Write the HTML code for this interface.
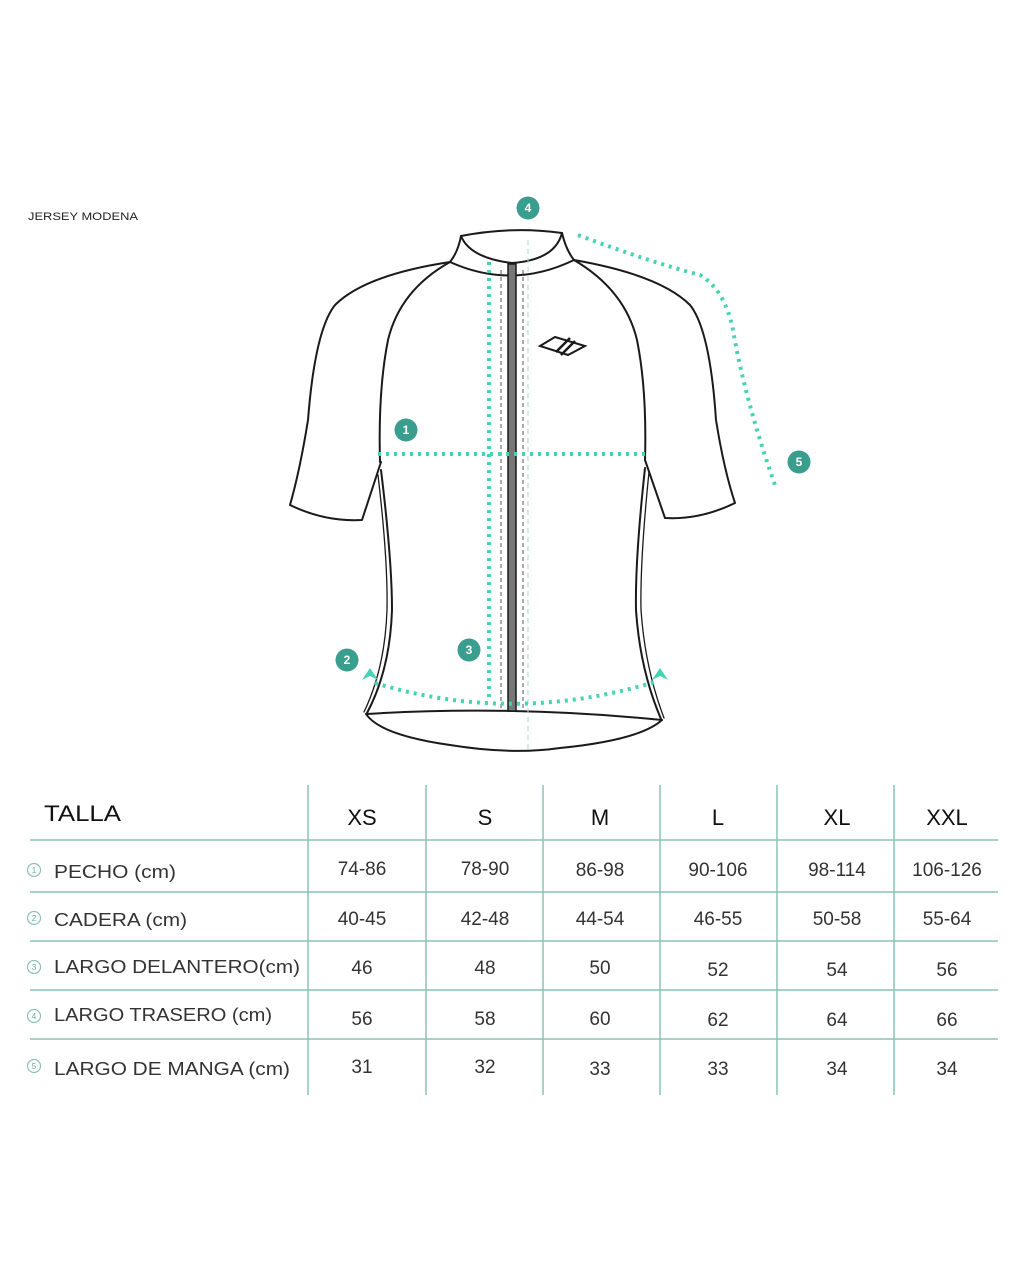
<!DOCTYPE html>
<html><head><meta charset="utf-8"><style>
html,body{margin:0;padding:0;background:#fff;}
body{width:1024px;height:1280px;position:relative;overflow:hidden;font-family:"Liberation Sans",sans-serif;}
svg{position:absolute;left:0;top:0;}
</style></head><body>
<svg width="1024" height="1280" viewBox="0 0 1024 1280" xmlns="http://www.w3.org/2000/svg" font-family="Liberation Sans, sans-serif">
<text x="28" y="220" font-size="11" fill="#222" textLength="110" lengthAdjust="spacingAndGlyphs">JERSEY MODENA</text>

<g fill="none" stroke="#1a1a1a" stroke-width="2" stroke-linejoin="round" stroke-linecap="round">
 <path d="M461,236 Q512,226 562,233"/>
 <path d="M461,236 Q470,258 512,263 Q555,260 562,233"/>
 <path d="M461,236 Q458,252 450,262"/>
 <path d="M562,233 Q566,250 574,260"/>
 <path d="M450,262 Q512,290 574,260"/>
 <path d="M450,262 Q365,275 335,305 Q315,330 308,420 Q300,470 290,505 Q325,522 362,520 L381,462"/>
 <path d="M450,262 Q400,290 388,340 Q378,390 380,462"/>
 <path d="M381,470 Q392,560 392,610 Q390,670 367,713"/>
 <path d="M378,475 Q388,560 387,610 Q385,668 364,712" stroke-width="1.3"/>
 <path d="M574,260 Q660,275 690,305 Q710,330 716,420 Q724,470 735,503 Q700,520 665,518 L645,460"/>
 <path d="M574,260 Q625,290 637,340 Q647,390 645,460"/>
 <path d="M645,468 Q635,560 636,610 Q640,670 661,719"/>
 <path d="M649,472 Q640,560 641,610 Q645,668 664,718" stroke-width="1.3"/>
 <path d="M366,714 Q512,705 662,720"/>
 <path d="M366,714 Q380,735 450,745 Q512,755 560,748 Q640,740 662,720"/>
</g>
<rect x="508" y="264" width="8" height="447" fill="#777" stroke="#1a1a1a" stroke-width="1.5"/>
<line x1="501" y1="270" x2="501" y2="710" stroke="#555" stroke-width="1" stroke-dasharray="4,3"/>
<line x1="523" y1="270" x2="523" y2="710" stroke="#555" stroke-width="1" stroke-dasharray="4,3"/>
<line x1="528" y1="240" x2="528" y2="750" stroke="#9fdccd" stroke-width="1" stroke-dasharray="5,4"/>
<g fill="none" stroke="#1a1a1a" stroke-width="2">
 <path d="M540,346 L555,337 L585,346 L568,355 Z"/>
 <path d="M556,352 L570,338 M561,355 L575,341" stroke-width="2.5"/>
</g>
<g fill="none" stroke="#46d3b4" stroke-width="4" stroke-dasharray="3,5">
 <line x1="489" y1="262" x2="489" y2="700"/>
 <line x1="378" y1="454" x2="648" y2="454"/>
 <path d="M375,683 Q512,725 655,682"/>
 <path d="M578,235 Q650,262 700,275 Q725,290 733,330 Q745,400 775,485"/>
</g>
<g fill="#46d3b4">
 <path d="M362,680 L370,668 L378,680 L370,676 Z"/>
 <path d="M652,680 L660,668 L668,680 L660,676 Z"/>
</g>
<g fill="#3a9e8e">
 <circle cx="528" cy="208" r="11.5"/><circle cx="406" cy="430" r="11.5"/>
 <circle cx="799" cy="462" r="11.5"/><circle cx="347" cy="660" r="11.5"/>
 <circle cx="469" cy="650" r="11.5"/>
</g>
<g fill="#fff" font-size="12" font-weight="bold" text-anchor="middle">
 <text x="528" y="212">4</text><text x="406" y="434">1</text><text x="799" y="466">5</text>
 <text x="347" y="664">2</text><text x="469" y="654">3</text>
</g>

<g stroke="#8cc2b6" stroke-width="1.5">
 <line x1="308" y1="785" x2="308" y2="1095"/><line x1="426" y1="785" x2="426" y2="1095"/>
 <line x1="543" y1="785" x2="543" y2="1095"/><line x1="660" y1="785" x2="660" y2="1095"/>
 <line x1="777" y1="785" x2="777" y2="1095"/><line x1="894" y1="785" x2="894" y2="1095"/>
 <line x1="30" y1="840" x2="998" y2="840"/><line x1="30" y1="892" x2="998" y2="892"/>
 <line x1="30" y1="941" x2="998" y2="941"/><line x1="30" y1="990" x2="998" y2="990"/>
 <line x1="30" y1="1039" x2="998" y2="1039"/>
</g>
<text x="44" y="821" fill="#111" font-size="22" textLength="77" lengthAdjust="spacingAndGlyphs">TALLA</text>
<g fill="#111" font-size="22" text-anchor="middle">
 <text x="362" y="825">XS</text><text x="485" y="825">S</text><text x="600" y="825">M</text>
 <text x="718" y="825">L</text><text x="837" y="825">XL</text><text x="947" y="825">XXL</text>
</g>
<g fill="none" stroke="#8cc2b6" stroke-width="1.2">
 <circle cx="34" cy="870" r="6.5"/><circle cx="34" cy="918" r="6.5"/><circle cx="34" cy="967" r="6.5"/>
 <circle cx="34" cy="1016" r="6.5"/><circle cx="34" cy="1066" r="6.5"/>
</g>
<g fill="#6aa89b" font-size="8" text-anchor="middle">
 <text x="34" y="873">1</text><text x="34" y="921">2</text><text x="34" y="970">3</text>
 <text x="34" y="1019">4</text><text x="34" y="1069">5</text>
</g>
<g fill="#333" font-size="18.5" lengthAdjust="spacingAndGlyphs">
 <text x="54" y="878" textLength="122" lengthAdjust="spacingAndGlyphs">PECHO (cm)</text>
 <text x="54" y="926" textLength="133" lengthAdjust="spacingAndGlyphs">CADERA (cm)</text>
 <text x="54" y="973" textLength="246" lengthAdjust="spacingAndGlyphs">LARGO DELANTERO(cm)</text>
 <text x="54" y="1021" textLength="218" lengthAdjust="spacingAndGlyphs">LARGO TRASERO (cm)</text>
 <text x="54" y="1075" textLength="236" lengthAdjust="spacingAndGlyphs">LARGO DE MANGA (cm)</text>
</g>
<g fill="#333" font-size="19" text-anchor="middle">
 <text x="362" y="875">74-86</text><text x="485" y="875">78-90</text><text x="600" y="876">86-98</text><text x="718" y="876">90-106</text><text x="837" y="876">98-114</text><text x="947" y="876">106-126</text>
 <text x="362" y="925">40-45</text><text x="485" y="925">42-48</text><text x="600" y="925">44-54</text><text x="718" y="925">46-55</text><text x="837" y="925">50-58</text><text x="947" y="925">55-64</text>
 <text x="362" y="974">46</text><text x="485" y="974">48</text><text x="600" y="974">50</text><text x="718" y="976">52</text><text x="837" y="976">54</text><text x="947" y="976">56</text>
 <text x="362" y="1025">56</text><text x="485" y="1025">58</text><text x="600" y="1025">60</text><text x="718" y="1026">62</text><text x="837" y="1026">64</text><text x="947" y="1026">66</text>
 <text x="362" y="1073">31</text><text x="485" y="1073">32</text><text x="600" y="1075">33</text><text x="718" y="1075">33</text><text x="837" y="1075">34</text><text x="947" y="1075">34</text>
</g>
</svg>
</body></html>
